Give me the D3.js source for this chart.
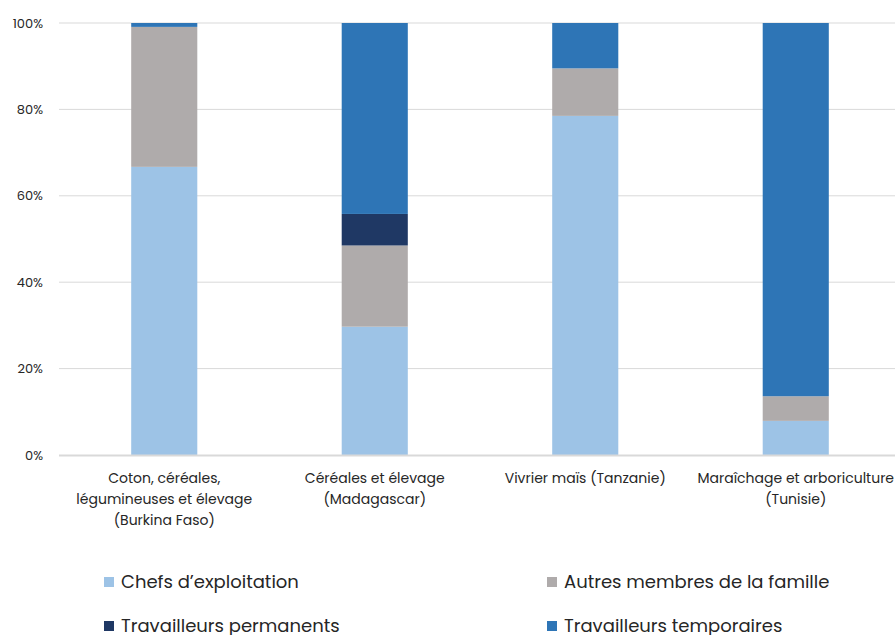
<!DOCTYPE html>
<html><head><meta charset="utf-8">
<script src="https://cdn.jsdelivr.net/npm/d3@7"></script>
<style>body{margin:0;background:#fff}svg{display:block}text{font-family:Poppins,"Open Sans",Lato,sans-serif;fill:#262626}</style>
</head><body><svg id="c" width="895" height="635"></svg>
<script>
const categories = [
  ["Coton, céréales,", "légumineuses et élevage", "(Burkina Faso)"],
  ["Céréales et élevage", "(Madagascar)"],
  ["Vivrier maïs (Tanzanie)"],
  ["Maraîchage et arboriculture", "(Tunisie)"]
];
const seriesNames = ["Chefs d’exploitation", "Autres membres de la famille", "Travailleurs permanents", "Travailleurs temporaires"];
const chefs = [66.7, 29.7, 78.5, 7.9];
const autres = [32.4, 18.8, 11.0, 5.7];
const permanents = [0, 7.3, 0, 0];
const temporaires = [0.9, 44.2, 10.5, 86.4];
const yTicks = [0, 20, 40, 60, 80, 100];
const colors = ["#9DC3E6", "#AFABAB", "#1F3864", "#2E75B6"];

const svg = d3.select("#c");
const series = [chefs, autres, permanents, temporaires];
const rows = categories.map((c, i) => {
  const r = {i};
  series.forEach((s, k) => r["s" + k] = s[i]);
  return r;
});
const stack = d3.stack().keys(["s0", "s1", "s2", "s3"])(rows);

const x = d3.scaleBand().domain(d3.range(categories.length)).range([59, 901]).paddingInner(0.686).paddingOuter(0.343);
const y = d3.scaleLinear().domain([0, 100]).range([455, 23]);

// gridlines
svg.append("g").selectAll("line").data(yTicks.filter(t => t > 0)).join("line")
  .attr("x1", 59).attr("x2", 895).attr("y1", d => y(d)).attr("y2", d => y(d))
  .attr("stroke", "#d9d9d9").attr("stroke-width", 1);

// y labels
const yAxis = d3.axisLeft(y).tickValues(yTicks).tickFormat(d => d + "%").tickSize(0).tickPadding(0);
const ga = svg.append("g").attr("transform", "translate(43,0)").call(yAxis);
ga.select(".domain").remove();
ga.selectAll("text").attr("font-size", 13).attr("fill", "#262626").style("font-family", 'Poppins,"Open Sans",Lato,sans-serif');

// bars
svg.append("g").selectAll("g").data(stack).join("g").attr("fill", (d, k) => colors[k])
  .selectAll("rect").data(d => d).join("rect")
  .attr("x", (d, i) => x(i)).attr("width", x.bandwidth())
  .attr("y", d => y(d[1])).attr("height", d => y(d[0]) - y(d[1]));

// baseline
svg.append("line").attr("x1", 59).attr("x2", 895).attr("y1", y(0) + 0.5).attr("y2", y(0) + 0.5)
  .attr("stroke", "#d9d9d9").attr("stroke-width", 2);

// category labels
const cl = svg.append("g").selectAll("text").data(categories).join("text")
  .attr("text-anchor", "middle").attr("font-size", 14)
  .attr("x", (d, i) => x(i) + x.bandwidth() / 2).attr("y", 483);
cl.selectAll("tspan").data(d => d).join("tspan")
  .attr("x", function() { return this.parentNode.getAttribute("x"); })
  .attr("dy", (d, j) => j === 0 ? 0 : 21).text(d => d);

// legend
const legPos = [[104, 582], [547, 582], [104, 626], [547, 626]];
const lg = svg.append("g").selectAll("g").data(seriesNames).join("g")
  .attr("transform", (d, k) => `translate(${legPos[k][0]},${legPos[k][1]})`);
lg.append("rect").attr("x", 0).attr("y", -5).attr("width", 10).attr("height", 10).attr("fill", (d, k) => colors[k]);
lg.append("text").attr("x", 17).attr("y", 0).attr("dy", "0.36em").attr("font-size", 18).text(d => d);
</script></body></html>
